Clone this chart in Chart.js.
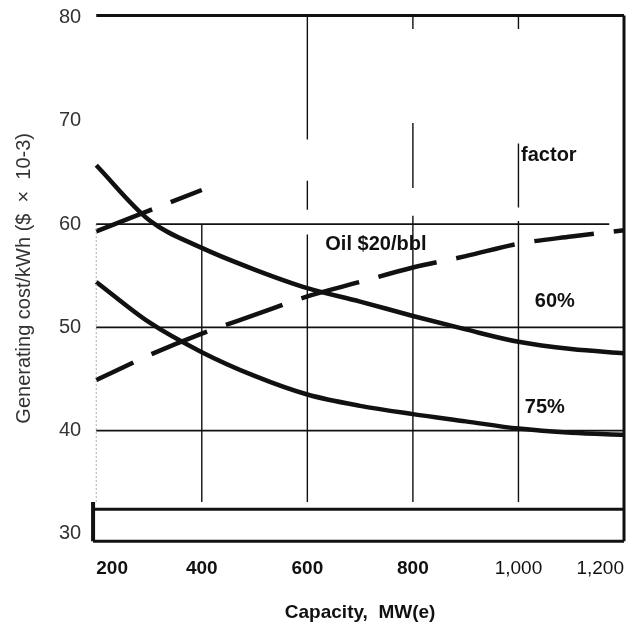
<!DOCTYPE html>
<html>
<head>
<meta charset="utf-8">
<script src="https://cdn.jsdelivr.net/npm/chart.js@4.4.1/dist/chart.umd.min.js"></script>
<style>
  html, body { margin: 0; padding: 0; background: #fff; }
</style>
</head>
<body>
<canvas id="chart" width="634" height="626"></canvas>
<script>
// capacity MW(e) and generating cost ($ x 10-3 per kWh)
const CAPACITY = [200, 300, 400, 500, 600, 700, 800, 900, 1000, 1100, 1200];
const COST_60 = [65.7, 60.4, 57.7, 55.6, 53.8, 52.5, 51.1, 49.8, 48.6, 47.9, 47.5];
const COST_75 = [54.4, 50.5, 47.6, 45.3, 43.5, 42.4, 41.6, 40.9, 40.2, 39.8, 39.6];
const OIL_20 = [44.9, 47.3, 49.4, 51.2, 53.0, 54.4, 55.8, 56.9, 58.1, 58.8, 59.4];
const OIL_UPPER_X = [200, 300, 400];
const OIL_UPPER = [59.3, 61.3, 63.3];

const X_TICKS = [200, 400, 600, 800, 1000, 1200];
const Y_TICKS = [30, 40, 50, 60, 70, 80];
const Y_MIN = 29.3, Y_MAX = 80.2;

// grid pieces as in the scan: [at, from, to]
const H_GRID = [[60, 200, 1172], [50, 200, 1200], [40, 200, 1200]];
const V_GRID = [
  [400, 60, 33.1],
  [600, 80.2, 68.2], [600, 64.2, 61.4], [600, 59.0, 33.1],
  [800, 80.2, 78.9], [800, 69.8, 63.5], [800, 60.8, 33.1],
  [1000, 80.2, 78.9], [1000, 67.8, 61.6], [1000, 60.3, 33.1]
];
const BOX_TOP = 32.4, BOX_LEFT = 194;

const NOTES = [
  { text: 'factor', x: 1005, y: 66.6 },
  { text: 'Oil $20/bbl', x: 634, y: 58.0 },
  { text: '60%', x: 1031, y: 52.5 },
  { text: '75%', x: 1012, y: 42.2 }
];

const INK = '#111';
const FONT = '"Liberation Sans", Arial, sans-serif';

const pts = (xs, ys) => xs.map((x, i) => ({ x, y: ys[i] }));
const line = (data, w, extra) => Object.assign({
  data, showLine: true, borderColor: INK, borderWidth: w, pointRadius: 0, clip: false
}, extra || {});

const datasets = [];
H_GRID.forEach(([y, a, b]) => datasets.push(line([{ x: a, y }, { x: b, y }], 1.6)));
V_GRID.forEach(([x, a, b]) => datasets.push(line([{ x, y: a }, { x, y: b }], 1.4)));
// frame
datasets.push(line([{ x: 200, y: 60 }, { x: 200, y: 33.1 }], 1, { borderColor: '#aaa', borderDash: [2, 2] }));
datasets.push(line([{ x: 200, y: Y_MAX }, { x: 1200, y: Y_MAX }], 3));
datasets.push(line([{ x: 1200, y: Y_MAX }, { x: 1200, y: Y_MIN }], 3));
datasets.push(line([{ x: BOX_LEFT, y: BOX_TOP }, { x: 1200, y: BOX_TOP }], 3));
datasets.push(line([{ x: BOX_LEFT, y: Y_MIN }, { x: 1200, y: Y_MIN }], 3));
datasets.push(line([{ x: BOX_LEFT, y: 33.1 }, { x: BOX_LEFT, y: Y_MIN }], 4));
// curves
datasets.push(line(pts(CAPACITY, COST_60), 4.5, { cubicInterpolationMode: 'monotone' }));
datasets.push(line(pts(CAPACITY, COST_75), 4.5, { cubicInterpolationMode: 'monotone' }));
datasets.push(line(pts(CAPACITY, OIL_20), 4.5, { cubicInterpolationMode: 'monotone', borderDash: [60, 20], borderDashOffset: 19 }));
datasets.push(line(pts(OIL_UPPER_X, OIL_UPPER), 4.5, { borderDash: [60, 20] }));

const notes = {
  id: 'notes',
  afterDatasetsDraw(chart) {
    const { ctx, scales: { x, y } } = chart;
    ctx.save();
    ctx.fillStyle = INK;
    ctx.font = 'bold 20px ' + FONT;
    ctx.textAlign = 'left';
    ctx.textBaseline = 'middle';
    NOTES.forEach(n => ctx.fillText(n.text, x.getPixelForValue(n.x), y.getPixelForValue(n.y)));
    ctx.restore();
  }
};

new Chart(document.getElementById('chart'), {
  type: 'scatter',
  data: { datasets },
  plugins: [notes],
  options: {
    responsive: false,
    animation: false,
    layout: { padding: { top: 15, right: 10, left: 8, bottom: 1 } },
    plugins: { legend: { display: false }, tooltip: { enabled: false } },
    scales: {
      x: {
        type: 'linear', min: 200, max: 1200,
        afterBuildTicks: s => { s.ticks = X_TICKS.map(v => ({ value: v })); },
        grid: { display: false, drawTicks: false },
        border: { display: false },
        // tall line box instead of tick padding, so no side padding is added
        ticks: {
          align: 'inner', padding: 0, color: INK,
          font: c => ({ family: FONT, size: 19, lineHeight: 2.95, weight: c.tick && c.tick.value < 1000 ? 'bold' : 'normal' }),
          callback: v => v.toLocaleString('en-US')
        },
        title: {
          display: true, text: 'Capacity,  MW(e)', color: INK,
          font: { family: FONT, size: 19, weight: 'bold' },
          padding: { top: 4, bottom: 1 }
        }
      },
      y: {
        type: 'linear', min: Y_MIN, max: Y_MAX,
        afterBuildTicks: s => { s.ticks = Y_TICKS.map(v => ({ value: v })); },
        grid: { display: false, drawTicks: false },
        border: { display: false },
        ticks: { padding: 15, color: '#333', font: { family: FONT, size: 20, lineHeight: 0.05 } },
        title: {
          display: true, text: 'Generating cost/kWh ($  \u00d7  10-3)', color: '#333',
          font: { family: FONT, size: 20 },
          padding: { top: 4, bottom: 8 }
        }
      }
    }
  }
});
</script>
</body>
</html>
